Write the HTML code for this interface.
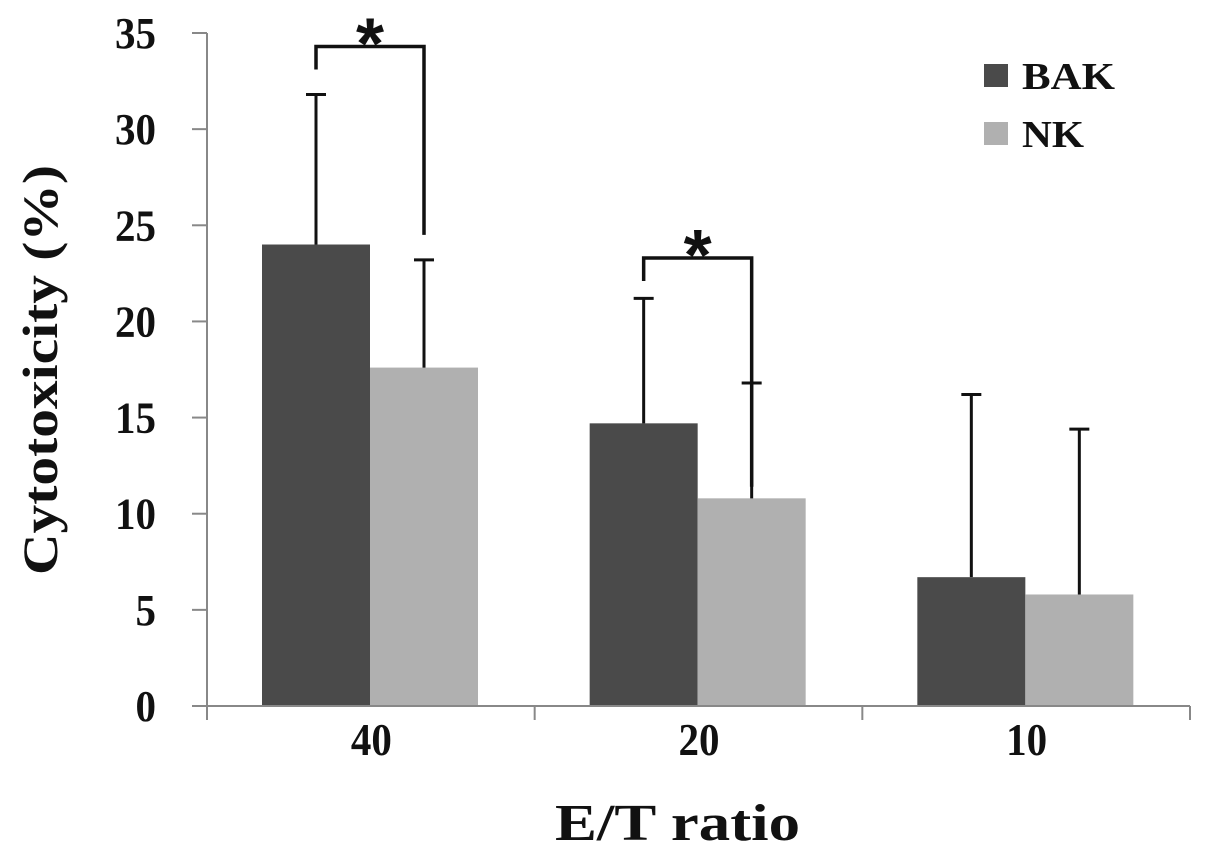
<!DOCTYPE html>
<html><head><meta charset="utf-8"><style>
body{margin:0;background:#fff}
svg{display:block;font-family:"Liberation Serif",serif;font-weight:bold}
</style></head><body>
<svg id="chart" width="1205" height="852">
<g id="g"></g>
</svg>
<script>
const categories=["40","20","10"];
const bakValues=[24.0,14.7,6.7];
const nkValues=[17.6,10.8,5.8];
const bakErr=[31.8,21.2,16.2];
const nkErr=[23.2,16.8,14.4];
const yTicks=[0,5,10,15,20,25,30,35];
const NS="http://www.w3.org/2000/svg";
const g=document.getElementById('g');
const x0=207,x1=1190,y0=706,yTop=33;
function y(v){return y0-(y0-yTop)*v/35;}
function band(i){return x0+(x1-x0)/3*i;}
function el(t,a,txt){const e=document.createElementNS(NS,t);for(const k in a)e.setAttribute(k,a[k]);if(txt!==undefined)e.textContent=txt;g.appendChild(e);return e;}
let e;
e=el('line',{x1:x0,y1:yTop,x2:x0,y2:y0,stroke:'#888','stroke-width':2});


yTicks.forEach(v=>{
 e=el('line',{x1:x0-15,x2:x0,y1:y(v),y2:y(v),stroke:'#888','stroke-width':2});
 
 
 const s=String(v);
 e=el('text',{x:x0-51,y:y(v)+15,'text-anchor':'end','font-size':44,fill:'#111',textLength:s.length*20.5,lengthAdjust:'spacingAndGlyphs'},s);
 
 
});
categories.forEach((c,i)=>{
 const bs=band(i),w=(x1-x0)/3;
 const bw=108,bx=bs+55;
 const bars=[[bakValues[i],bakErr[i],'#4a4a4a','bar-bak-'+c,bx],[nkValues[i],nkErr[i],'#b0b0b0','bar-nk-'+c,bx+bw]];
 bars.forEach(b=>{
  e=el('rect',{x:b[4],y:y(b[0]),width:bw,height:y0-y(b[0]),fill:b[2]});
  
  
  const cx=b[4]+bw/2;
  e=el('path',{d:`M${cx},${y(b[0])}V${y(b[1])}M${cx-10},${y(b[1])}H${cx+10}`,stroke:'#111','stroke-width':3,fill:'none'});
  
  
 });
 e=el('text',{x:bs+w/2-20,y:755,'font-size':46,fill:'#111',textLength:41,lengthAdjust:'spacingAndGlyphs'},c);
 
 
});
[0,1,2,3].forEach(i=>{
 e=el('line',{x1:band(i),x2:band(i),y1:y0,y2:y0+14,stroke:'#888','stroke-width':2});
 
 
});
e=el('line',{x1:x0,y1:y0,x2:x1,y2:y0,stroke:'#888','stroke-width':2});


[[0,y(34.3),y(33.1),y(24.5)],[1,y(23.3),y(22.1),y(11.4)]].forEach(s=>{
 const i=s[0],bx=band(i)+55,l=bx+54,r=bx+108+54;
 e=el('path',{d:`M${l},${s[2]}V${s[1]}H${r}V${s[3]}`,stroke:'#111','stroke-width':3.5,fill:'none'});
 
 
 e=el('text',{x:(l+r)/2,y:s[1]+22,'text-anchor':'middle','font-size':72,'font-family':'Liberation Sans, sans-serif',fill:'#111'},'*');
 
 
});
e=el('text',{x:-575,y:0,transform:'translate(57,0) rotate(-90)','font-size':50,fill:'#111',textLength:410,lengthAdjust:'spacingAndGlyphs'},'Cytotoxicity (%)');


e=el('text',{x:555,y:840,'font-size':52,fill:'#111',textLength:245,lengthAdjust:'spacingAndGlyphs'},'E/T ratio');


[['BAK','#4a4a4a',75,93],['NK','#b0b0b0',133,62]].forEach(l=>{
 e=el('rect',{x:984,y:l[2]-11,width:24,height:23,fill:l[1]});
 
 
 e=el('text',{x:1022,y:l[2]+14,'font-size':38,fill:'#111',textLength:l[3],lengthAdjust:'spacingAndGlyphs'},l[0]);
 
 
});
</script>
</body></html>
